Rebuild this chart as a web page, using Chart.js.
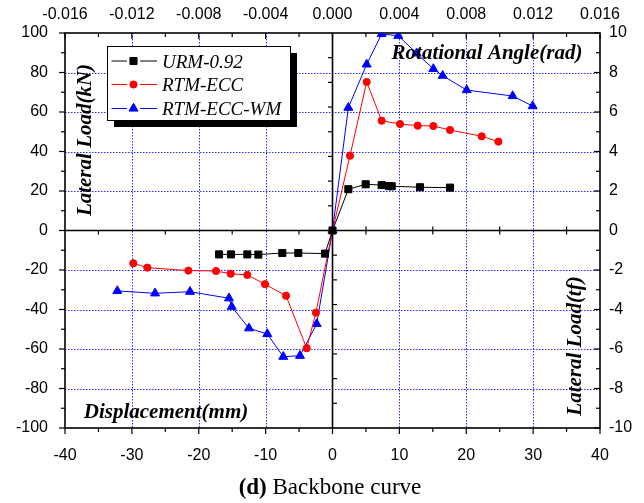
<!DOCTYPE html>
<html>
<head>
<meta charset="utf-8">
<script src="https://cdn.jsdelivr.net/npm/chart.js@4/dist/chart.umd.min.js"></script>
<style>
  html, body { margin: 0; padding: 0; background: #fff; }
  #wrap { width: 644px; height: 503px; }
</style>
</head>
<body>
<div id="wrap"><canvas id="c" width="644" height="503"></canvas></div>
<script>
// Backbone curves: lateral load (kN) against displacement (mm)
const seriesNames = ['URM-0.92', 'RTM-ECC', 'RTM-ECC-WM'];

const urmDisp = [-16.97, -15.18, -12.74, -11.09, -7.50, -5.11, -1.12, 0, 2.37, 4.96, 7.35, 8.45, 8.85, 13.08, 17.57];
const urmLoad = [-12.1, -12.1, -12.1, -12.2, -11.4, -11.4, -11.7, 0, 20.9, 23.4, 23.0, 22.5, 22.4, 21.9, 21.7];

const eccDisp = [-29.78, -27.69, -21.56, -17.42, -15.22, -12.74, -10.09, -6.95, -3.86, -2.47, 0, 2.62, 5.11, 7.35, 10.09, 12.74, 15.08, 17.57, 22.31, 24.80];
const eccLoad = [-16.6, -18.8, -20.3, -20.5, -21.9, -22.5, -27.2, -33.0, -59.6, -41.6, 0, 37.9, 75.2, 55.6, 53.9, 53.1, 52.9, 50.9, 47.7, 45.0];

const wmDisp = [-32.18, -26.54, -21.31, -15.48, -15.07, -12.49, -9.75, -7.36, -4.86, -2.36, 0, 2.37, 5.11, 7.35, 9.84, 12.58, 15.08, 16.47, 20.07, 26.94, 29.93];
const wmLoad = [-30.6, -31.8, -31.0, -34.3, -38.6, -49.5, -52.4, -63.9, -63.4, -47.3, 0, 62.2, 84.1, 99.5, 98.6, 89.7, 81.8, 78.4, 71.1, 68.1, 63.0];

// Tick values for the four axes
const dispTicks = [-40, -30, -20, -10, 0, 10, 20, 30, 40];
const angleTicks = [-0.016, -0.012, -0.008, -0.004, 0, 0.004, 0.008, 0.012, 0.016];
const loadTicks = [-100, -80, -60, -40, -20, 0, 20, 40, 60, 80, 100];
const tfTicks = [-10, -8, -6, -4, -2, 0, 2, 4, 6, 8, 10];

const seriesColors = ['#000000', '#ff0000', '#0000ff'];
const seriesMarkers = ['rect', 'circle', 'triangle'];
const markerRadius = [5, 3.6, 5.2];

const pairs = (xs, ys) => xs.map((v, i) => ({ x: v, y: ys[i] }));
const seriesData = [pairs(urmDisp, urmLoad), pairs(eccDisp, eccLoad), pairs(wmDisp, wmLoad)];

const SANS = '"Liberation Sans", Arial, sans-serif';
const SERIF = '"Liberation Serif", "Times New Roman", serif';

const setTicks = arr => scale => { scale.ticks = arr.map(v => ({ value: v })); };
const fixSize = (prop, size) => scale => {
  scale[prop] = size;
  scale.paddingLeft = 0; scale.paddingRight = 0;
  scale.paddingTop = 0; scale.paddingBottom = 0;
};

function seg(ctx, x1, y1, x2, y2) {
  ctx.beginPath();
  ctx.moveTo(x1, y1);
  ctx.lineTo(x2, y2);
  ctx.stroke();
}

// Dotted grid, frame, centre axes and tick marks
const framePlugin = {
  id: 'frame',
  beforeDatasetsDraw(chart) {
    const { ctx, chartArea: a, scales } = chart;
    const { x, y, x2, y2 } = scales;
    const x0 = x.getPixelForValue(0);
    const y0 = y.getPixelForValue(0);
    ctx.save();

    // grid lines at the inner major ticks
    ctx.strokeStyle = '#2a2aff';
    ctx.lineWidth = 1;
    ctx.setLineDash([1.5, 1.5]);
    x.ticks.forEach(t => {
      if (t.value === 0 || Math.abs(t.value) === 40) return;
      const p = Math.round(x.getPixelForValue(t.value)) + 0.5;
      seg(ctx, p, a.top, p, a.bottom);
    });
    y.ticks.forEach(t => {
      if (t.value === 0 || Math.abs(t.value) === 100) return;
      const p = Math.round(y.getPixelForValue(t.value)) + 0.5;
      seg(ctx, a.left, p, a.right, p);
    });
    ctx.setLineDash([]);

    ctx.strokeStyle = '#000';
    ctx.lineCap = 'butt';
    ctx.lineWidth = 1.2;
    // bottom (outward) and top (inward) ticks every 5 mm / 0.002 rad
    for (let k = -8; k <= 8; k++) {
      const major = k % 2 === 0;
      const len = major ? 6 : 4;
      const pb = x.getPixelForValue(k * 5);
      seg(ctx, pb, a.bottom, pb, a.bottom + len);
      const pt = x2.getPixelForValue(k * 0.002);
      seg(ctx, pt, a.top, pt, a.top + len);
      if (!major) {
        if (k < 0) seg(ctx, pb, y0, pb, y0 + 4);
        else seg(ctx, pb, y0 - 4, pb, y0 + 4);
      }
    }
    // left (outward) and right (inward) ticks every 10 kN / 1 tf
    for (let k = -10; k <= 10; k++) {
      const major = k % 2 === 0;
      const len = major ? 6 : 4;
      const pl = y.getPixelForValue(k * 10);
      seg(ctx, a.left - len, pl, a.left, pl);
      const pr = y2.getPixelForValue(k);
      seg(ctx, a.right - len, pr, a.right, pr);
    }
    // ticks along the vertical centre axis
    for (let k = -7; k <= 7; k++) {
      if (k === 0) continue;
      const p = y.getPixelForValue(k * 12.5);
      if (k > 0) seg(ctx, x0 - 4.5, p, x0, p);
      else seg(ctx, x0, p, x0 + 4.5, p);
    }

    ctx.lineWidth = 1.6;
    ctx.strokeRect(a.left, a.top, a.right - a.left, a.bottom - a.top);
    seg(ctx, a.left, y0, a.right, y0);
    seg(ctx, x0, a.top, x0, a.bottom);
    ctx.restore();
  }
};

// Axis titles, legend box and caption
const textPlugin = {
  id: 'texts',
  afterDraw(chart) {
    const { ctx } = chart;
    ctx.save();
    ctx.fillStyle = '#000';
    ctx.font = 'bold italic 21px ' + SERIF;
    ctx.textAlign = 'center';
    ctx.textBaseline = 'middle';

    ctx.fillText('Rotational Angle(rad)', 487, 54);
    ctx.fillText('Displacement(mm)', 166, 413);

    ctx.save();
    ctx.translate(86, 140);
    ctx.rotate(-Math.PI / 2);
    ctx.fillText('Lateral Load(kN)', 0, 0);
    ctx.restore();

    ctx.save();
    ctx.translate(576, 346);
    ctx.rotate(-Math.PI / 2);
    ctx.fillText('Lateral Load(tf)', 0, 0);
    ctx.restore();

    // legend with drop shadow
    const bx = 107.5, by = 46.5, bw = 183, bh = 74;
    ctx.fillStyle = '#000';
    ctx.fillRect(bx + 6.5, by + 6.5, bw, bh);
    ctx.fillStyle = '#fff';
    ctx.fillRect(bx, by, bw, bh);
    ctx.strokeStyle = '#000';
    ctx.lineWidth = 1;
    ctx.strokeRect(bx, by, bw, bh);

    const rows = [61, 84.5, 108.5];
    seriesNames.forEach((name, i) => {
      const cy = rows[i];
      ctx.strokeStyle = seriesColors[i];
      ctx.fillStyle = seriesColors[i];
      ctx.lineWidth = 1;
      seg(ctx, 111.5, cy, 127, cy);
      seg(ctx, 140, cy, 157, cy);
      Chart.helpers.drawPoint(ctx, { pointStyle: seriesMarkers[i], radius: markerRadius[i], borderWidth: 1 }, 133.5, cy);
      ctx.fillStyle = '#000';
      ctx.font = 'italic 19px ' + SERIF;
      ctx.textAlign = 'left';
      ctx.textBaseline = 'middle';
      ctx.fillText(name, 162, cy + 1.5);
    });

    // caption
    ctx.textBaseline = 'middle';
    ctx.textAlign = 'left';
    ctx.font = 'bold 23px ' + SERIF;
    const w1 = ctx.measureText('(d)').width;
    ctx.font = '23px ' + SERIF;
    const w2 = ctx.measureText(' Backbone curve').width;
    const sx = 330 - (w1 + w2) / 2;
    ctx.font = 'bold 23px ' + SERIF;
    ctx.fillText('(d)', sx, 488);
    ctx.font = '23px ' + SERIF;
    ctx.fillText(' Backbone curve', sx + w1, 488);
    ctx.restore();
  }
};

const tickFont = { family: SANS, size: 16 };

new Chart(document.getElementById('c'), {
  type: 'scatter',
  data: {
    datasets: seriesNames.map((name, i) => ({
      label: name,
      data: seriesData[i],
      showLine: true,
      borderColor: seriesColors[i],
      backgroundColor: seriesColors[i],
      borderWidth: 1,
      pointStyle: seriesMarkers[i],
      pointRadius: markerRadius[i],
      pointBorderWidth: 1,
      pointBorderColor: seriesColors[i],
      pointBackgroundColor: seriesColors[i],
      tension: 0
    }))
  },
  options: {
    responsive: false,
    animation: false,
    devicePixelRatio: 1,
    layout: { padding: 0 },
    plugins: { legend: { display: false }, tooltip: { enabled: false }, title: { display: false } },
    scales: {
      x: {
        type: 'linear', position: 'bottom', min: -40, max: 40,
        afterBuildTicks: setTicks(dispTicks),
        afterFit: fixSize('height', 75),
        ticks: { font: tickFont, color: '#000', padding: 18, maxRotation: 0, autoSkip: false },
        grid: { display: false, drawTicks: false },
        border: { display: false }
      },
      x2: {
        type: 'linear', position: 'top', min: -0.016, max: 0.016,
        afterBuildTicks: setTicks(angleTicks),
        afterFit: fixSize('height', 33),
        ticks: { font: tickFont, color: '#000', padding: 9, maxRotation: 0, autoSkip: false,
                 callback: v => v.toFixed(3) },
        grid: { display: false, drawTicks: false },
        border: { display: false }
      },
      y: {
        type: 'linear', position: 'left', min: -100, max: 100,
        afterBuildTicks: setTicks(loadTicks),
        afterFit: fixSize('width', 65),
        ticks: { font: tickFont, color: '#000', padding: 17, autoSkip: false },
        grid: { display: false, drawTicks: false },
        border: { display: false }
      },
      y2: {
        type: 'linear', position: 'right', min: -10, max: 10,
        afterBuildTicks: setTicks(tfTicks),
        afterFit: fixSize('width', 44),
        ticks: { font: tickFont, color: '#000', padding: 9, autoSkip: false },
        grid: { display: false, drawTicks: false },
        border: { display: false }
      }
    }
  },
  plugins: [framePlugin, textPlugin]
});
</script>
</body>
</html>
